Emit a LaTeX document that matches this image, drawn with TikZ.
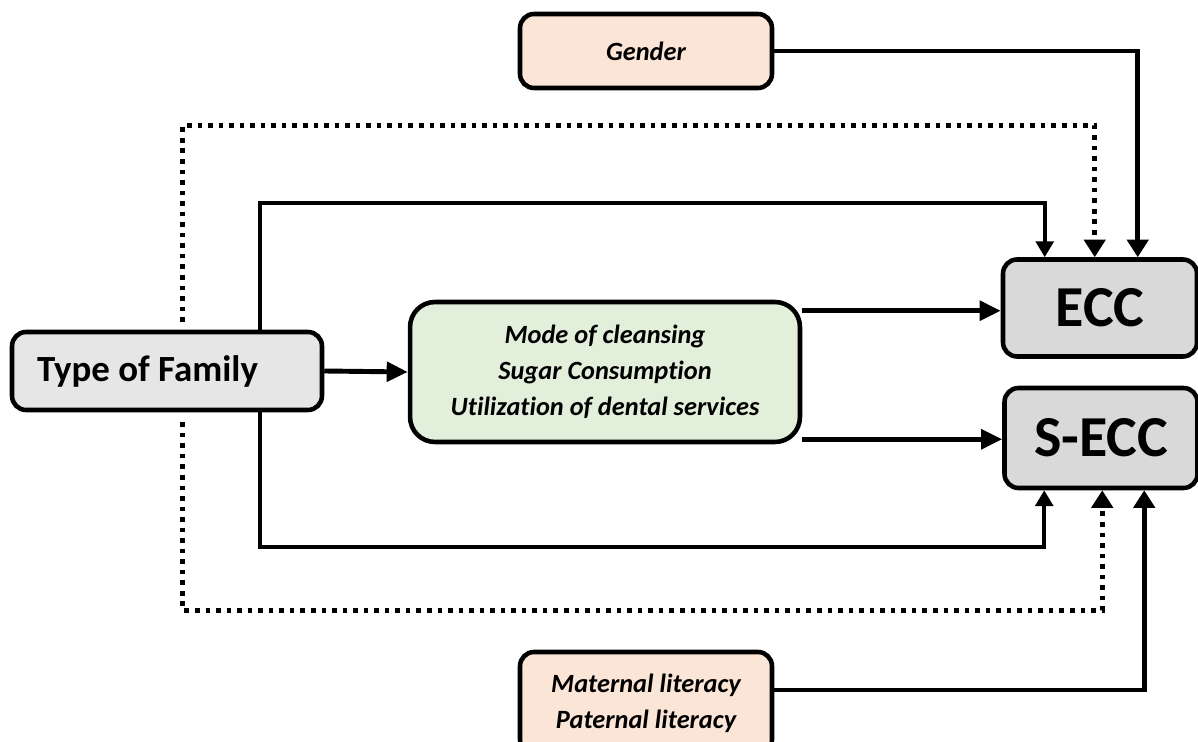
\documentclass[tikz,border=0pt]{standalone}
\usepackage{fontspec}
\setmainfont{Carlito}[Ligatures={NoCommon}]
\usetikzlibrary{arrows.meta,calc}
\definecolor{peach}{HTML}{FBE5D6}
\definecolor{typegray}{HTML}{E7E6E6}
\definecolor{midgreen}{HTML}{E2EFDA}
\definecolor{eccgray}{HTML}{D9D9D9}
\tikzset{
  boxbase/.style={draw=black, line width=2.6pt, rounded corners=0.28cm, inner sep=0pt, align=center},
  peachbox/.style={boxbase, fill=peach, minimum width=5.04cm, font=\fontsize{15}{20.4}\selectfont\bfseries\itshape},
  typebox/.style={boxbase, fill=typegray, minimum width=6.2cm, minimum height=1.56cm, text width=5.2cm, inner xsep=0.5cm, align=flush left, font=\fontsize{21}{25}\selectfont\bfseries},
  midbox/.style={boxbase, fill=midgreen, rounded corners=0.5cm, minimum width=7.8cm, minimum height=2.8cm, font=\fontsize{15}{20.4}\selectfont\bfseries\itshape},
  eccbox/.style={boxbase, fill=eccgray, font=\fontsize{33}{36}\selectfont\bfseries},
  solidarr/.style={line width=2.2pt, -{Triangle[length=9pt,width=10pt]}},
  thickarr/.style={line width=2.8pt, -{Triangle[length=12pt,width=11pt]}},
  bigarr/.style={line width=2.6pt, -{Triangle[length=10pt,width=12pt]}},
  dotarr/.style={line width=2.8pt, dash pattern=on 2.6pt off 3.4pt, -{Triangle[length=10pt,width=12pt]}},
}
\begin{document}
\begin{tikzpicture}[x=0.02cm,y=-0.02cm]
\useasboundingbox (0,0) rectangle (1198,742);
\fill[white] (0,0) rectangle (1198,742);

\node[peachbox, minimum height=1.48cm] (gender) at (646,51) {Gender};
\node[typebox] (type) at (167,371) {Type of Family};
\node[midbox] (mid) at (605,372) {Mode of cleansing\\Sugar Consumption\\Utilization of dental services};
\node[eccbox, minimum width=3.88cm, minimum height=1.94cm] (ecc) at (1100,308) {ECC};
\node[eccbox, minimum width=3.86cm, minimum height=2.0cm] (secc) at (1101,438) {S-ECC};
\node[peachbox, minimum height=2.04cm] (mat) at (646,703) {Maternal literacy\\Paternal literacy};

% Gender -> ECC
\draw[bigarr] (gender.east) -| ($(ecc.north west)+(137,0)$);
% dotted top
\draw[dotarr] ($(type.north west)+(173,-8)$) -- ++(0,-196) -| ($(ecc.north west)+(94,0)$);
% solid top
\draw[solidarr] ($(type.north west)+(250,0)$) -- ++(0,-127) -| ($(ecc.north west)+(44,0)$);
% Type -> mid
\draw[thickarr] (type.east) -- (mid.west);
% mid -> ECC / S-ECC
\coordinate (m1) at ($(mid.north east)+(0,11)$);
\coordinate (m2) at ($(mid.south east)+(0,-5)$);
\draw[thickarr] (m1) -- (m1 -| ecc.west);
\draw[thickarr] (m2) -- (m2 -| secc.west);
% solid bottom
\draw[solidarr] ($(type.south west)+(250,0)$) -- ++(0,135) -| ($(secc.south west)+(42,0)$);
% dotted bottom
\draw[dotarr] ($(type.south west)+(173,10)$) -- ++(0,188) -| ($(secc.south west)+(100,0)$);
% Maternal -> S-ECC
\draw[bigarr] ($(mat.east)+(0,-13)$) -| ($(secc.south west)+(142,0)$);
\end{tikzpicture}
\end{document}
